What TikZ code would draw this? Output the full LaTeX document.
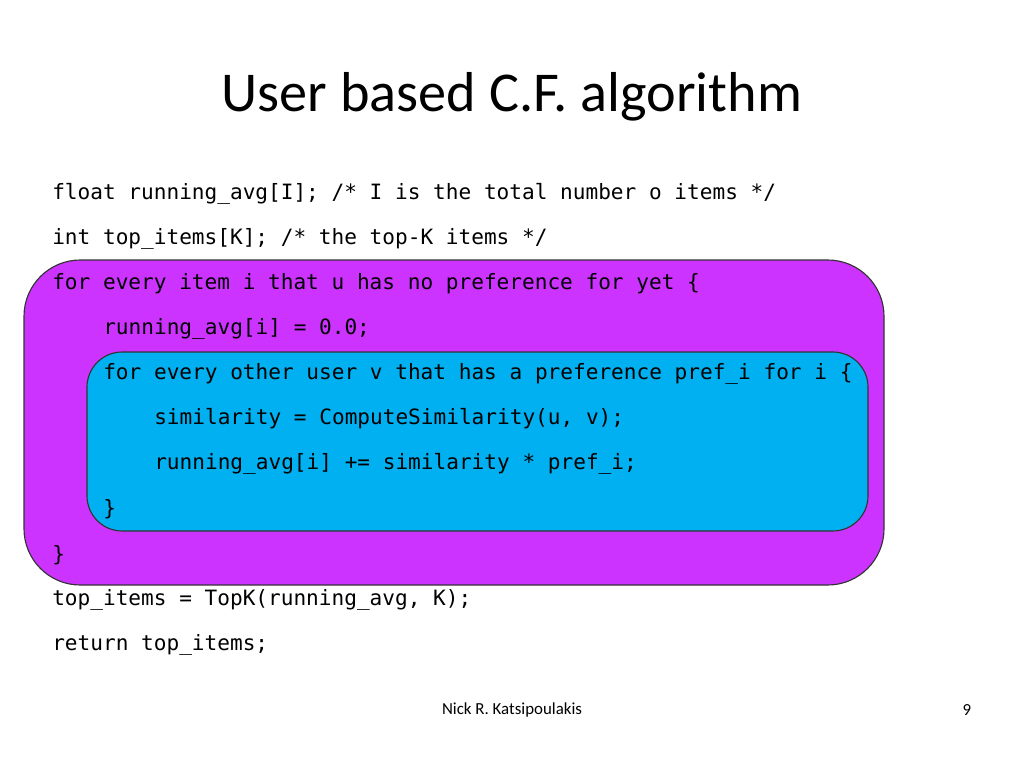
\documentclass[tikz,border=0pt]{standalone}
\usepackage{fontspec}
\setmainfont{Carlito}
\setmonofont{DejaVu Sans Mono}
\usetikzlibrary{positioning}
\definecolor{outerbox}{HTML}{CC33FF}
\definecolor{innerbox}{HTML}{00B0F0}
\tikzset{
  code/.style={anchor=west, inner sep=0pt, font=\ttfamily\fontsize{15}{18}\selectfont},
  loopbox/.style={draw=black!80, line width=0.8pt}
}
\begin{document}
\begin{tikzpicture}[x=0.025cm,y=-0.025cm]
  \useasboundingbox (0,0) rectangle (1024,768);
  % loop boxes
  \draw[loopbox, fill=outerbox, rounded corners=40] (24,260) rectangle (884,585);
  \draw[loopbox, fill=innerbox, rounded corners=25] (87,352) rectangle (868,531);
  % title
  \node[font=\fontsize{40}{48}\selectfont] (title) at (512,97) {User based C.F. algorithm};
  % code lines
  \node[code] (l1) at (52,194) {float running\_avg[I]; /* I is the total number o items */};
  \node[code] (l2) at (52,239) {int top\_items[K]; /* the top-K items */};
  \node[code] (l3) at (52,284) {for every item i that u has no preference for yet \{};
  \node[code] (l4) at (103,329) {running\_avg[i] = 0.0;};
  \node[code] (l5) at (103,374) {for every other user v that has a preference pref\_i for i \{};
  \node[code] (l6) at (154,419) {similarity = ComputeSimilarity(u, v);};
  \node[code] (l7) at (154,464) {running\_avg[i] += similarity * pref\_i;};
  \node[code] (l8) at (103,509) {\}};
  \node[code] (l9) at (52,555) {\}};
  \node[code] (l10) at (52,600) {top\_items = TopK(running\_avg, K);};
  \node[code] (l11) at (52,645) {return top\_items;};
  % footer
  \node[font=\fontsize{12}{14}\selectfont] (author) at (512,710) {Nick R. Katsipoulakis};
  \node[font=\fontsize{12}{14}\selectfont] (page) at (967,710) {9};
\end{tikzpicture}
\end{document}
